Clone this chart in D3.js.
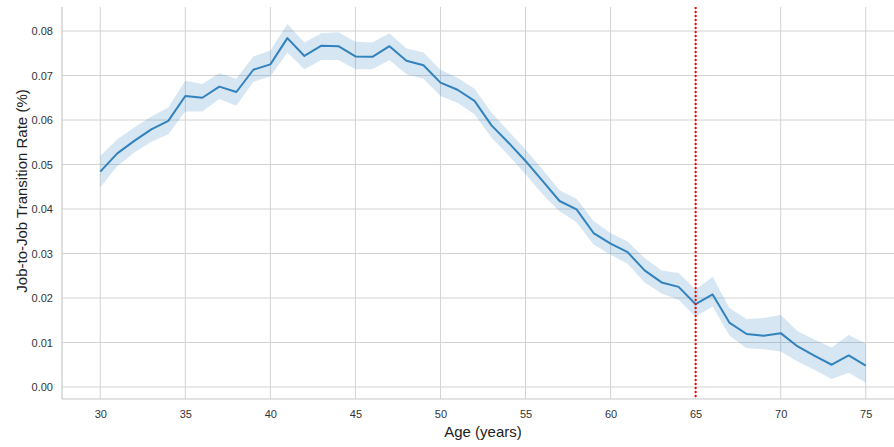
<!DOCTYPE html>
<html>
<head>
<meta charset="utf-8">
<script src="https://cdn.jsdelivr.net/npm/d3@7"></script>
<style>
  html, body { margin: 0; padding: 0; background: #fff; }
  svg { display: block; font-family: "Liberation Sans", Arial, sans-serif; }
</style>
</head>
<body>
<svg id="chart" width="894" height="447"></svg>
<script>
// Job-to-job transition rate by age, with confidence band
const ages = d3.range(30, 76);
const rate = [
  0.0484, 0.0525, 0.0553, 0.0579, 0.0598, 0.0654, 0.0650, 0.0675, 0.0663, 0.0713,
  0.0725, 0.0784, 0.0744, 0.0767, 0.0766, 0.0743, 0.0742, 0.0766, 0.0733, 0.0723,
  0.0684, 0.0668, 0.0643, 0.0588, 0.0549, 0.0508, 0.0463, 0.0418, 0.0399, 0.0346,
  0.0322, 0.0303, 0.0262, 0.0235, 0.0225, 0.0186, 0.0208, 0.0144, 0.0119, 0.0115,
  0.0121, 0.0091, 0.0070, 0.0050, 0.0071, 0.0048
];
const upper = [
  0.0519, 0.0557, 0.0583, 0.0608, 0.0628, 0.0688, 0.0681, 0.0705, 0.0693, 0.0743,
  0.0756, 0.0816, 0.0774, 0.0795, 0.0797, 0.0776, 0.0774, 0.0795, 0.0761, 0.0752,
  0.0713, 0.0695, 0.0670, 0.0617, 0.0575, 0.0534, 0.0489, 0.0442, 0.0423, 0.0373,
  0.0346, 0.0327, 0.0290, 0.0262, 0.0256, 0.0219, 0.0247, 0.0177, 0.0153, 0.0155,
  0.0162, 0.0125, 0.0106, 0.0089, 0.0117, 0.0098
];
const lower = [
  0.0449, 0.0496, 0.0527, 0.0551, 0.0568, 0.0619, 0.0619, 0.0647, 0.0632, 0.0686,
  0.0698, 0.0752, 0.0714, 0.0735, 0.0735, 0.0714, 0.0714, 0.0735, 0.0703, 0.0693,
  0.0654, 0.0639, 0.0613, 0.0560, 0.0521, 0.0478, 0.0433, 0.0395, 0.0370, 0.0320,
  0.0297, 0.0277, 0.0235, 0.0210, 0.0196, 0.0158, 0.0181, 0.0115, 0.0087, 0.0085,
  0.0080, 0.0057, 0.0038, 0.0018, 0.0032, 0.0010
];
const xTicks = [30, 35, 40, 45, 50, 55, 60, 65, 70, 75];
const yTicks = [0.00, 0.01, 0.02, 0.03, 0.04, 0.05, 0.06, 0.07, 0.08];
const retirementAge = 65;

const data = ages.map((a, i) => ({ age: a, v: rate[i], hi: upper[i], lo: lower[i] }));

const svg = d3.select("#chart");
const plotLeft = 62, plotRight = 904, plotTop = 7, plotBottom = 399;

const x = d3.scaleLinear().domain([27.75, 77.25]).range([plotLeft, plotRight]);
const y = d3.scaleLinear().domain([-0.0027, 0.0854]).range([plotBottom, plotTop]);

const gridColor = "#d3d3d3";

// grid lines
svg.append("g").selectAll("line").data(xTicks).join("line")
  .attr("x1", d => x(d)).attr("x2", d => x(d))
  .attr("y1", plotTop).attr("y2", plotBottom)
  .attr("stroke", gridColor).attr("stroke-width", 1);
svg.append("g").selectAll("line").data(yTicks).join("line")
  .attr("x1", plotLeft).attr("x2", plotRight)
  .attr("y1", d => y(d)).attr("y2", d => y(d))
  .attr("stroke", gridColor).attr("stroke-width", 1);

// confidence band
const area = d3.area()
  .x(d => x(d.age)).y0(d => y(d.lo)).y1(d => y(d.hi));
svg.append("path").datum(data)
  .attr("d", area)
  .attr("fill", "#3182bd").attr("fill-opacity", 0.2);

// mean line
const line = d3.line().x(d => x(d.age)).y(d => y(d.v));
svg.append("path").datum(data)
  .attr("d", line)
  .attr("fill", "none")
  .attr("stroke", "#3182bd")
  .attr("stroke-width", 2)
  .attr("stroke-linejoin", "round");

// retirement age marker
svg.append("line")
  .attr("x1", x(retirementAge)).attr("x2", x(retirementAge))
  .attr("y1", plotTop).attr("y2", plotBottom)
  .attr("stroke", "red").attr("stroke-width", 2)
  .attr("stroke-dasharray", "2,2");

// spines
svg.append("line").attr("x1", plotLeft).attr("x2", plotLeft).attr("y1", plotTop).attr("y2", plotBottom)
  .attr("stroke", "#c8c8c8").attr("stroke-width", 1.2);
svg.append("line").attr("x1", plotLeft).attr("x2", plotRight).attr("y1", plotBottom).attr("y2", plotBottom)
  .attr("stroke", "#c8c8c8").attr("stroke-width", 1.2);

// axes (tick labels only)
const xAxis = svg.append("g").attr("transform", `translate(0,${plotBottom})`)
  .call(d3.axisBottom(x).tickValues(xTicks).tickSize(0).tickPadding(11).tickFormat(d3.format("d")));
const yAxis = svg.append("g").attr("transform", `translate(${plotLeft},0)`)
  .call(d3.axisLeft(y).tickValues(yTicks).tickSize(0).tickPadding(9).tickFormat(d3.format(".2f")));
[xAxis, yAxis].forEach(g => {
  g.select(".domain").remove();
  g.selectAll("text").attr("fill", "#333").style("font-size", "11px")
    .style("font-family", "'Liberation Sans', Arial, sans-serif");
});

// axis titles
svg.append("text")
  .attr("x", (plotLeft + plotRight) / 2).attr("y", 437)
  .attr("text-anchor", "middle")
  .attr("fill", "#222").style("font-size", "15px")
  .text("Age (years)");
svg.append("text")
  .attr("transform", `translate(27,191) rotate(-90)`)
  .attr("text-anchor", "middle")
  .attr("fill", "#222").style("font-size", "15px")
  .text("Job-to-Job Transition Rate (%)");
</script>
</body>
</html>
